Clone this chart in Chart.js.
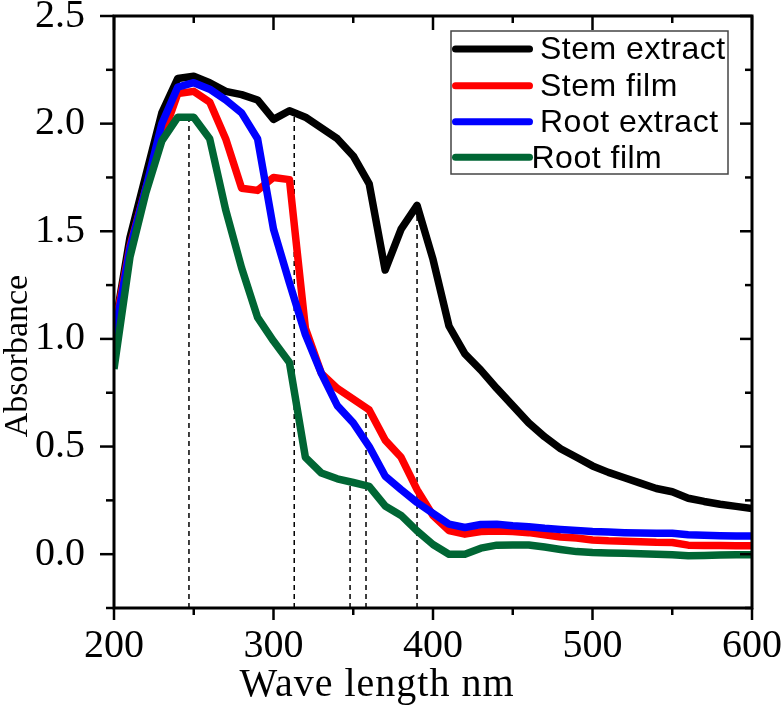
<!DOCTYPE html>
<html>
<head>
<meta charset="utf-8">
<script src="https://cdn.jsdelivr.net/npm/chart.js@4.4.0/dist/chart.umd.min.js"></script>
<style>
  html, body { margin: 0; padding: 0; background: #fff; }
</style>
</head>
<body>
<canvas id="uvChart" width="783" height="705"></canvas>
<script>
// wavelength grid, nm
const wavelengths = [200, 210, 220, 230, 240, 250, 260, 270, 280, 290,
  300, 310, 320, 330, 340, 350, 360, 370, 380, 390,
  400, 410, 420, 430, 440, 450, 460, 470, 480, 490,
  500, 510, 520, 530, 540, 550, 560, 570, 580, 590, 600];

const stemExtract = [1.03, 1.47, 1.76, 2.05, 2.21, 2.22, 2.19, 2.15, 2.135, 2.11,
  2.02, 2.06, 2.03, 1.98, 1.93, 1.85, 1.72, 1.32, 1.51, 1.62,
  1.37, 1.06, 0.93, 0.855, 0.77, 0.69, 0.61, 0.545, 0.49, 0.45,
  0.41, 0.38, 0.355, 0.33, 0.305, 0.29, 0.26, 0.245, 0.232, 0.222, 0.212];

const stemFilm = [1.03, 1.43, 1.70, 1.93, 2.14, 2.15, 2.10, 1.93, 1.70, 1.69,
  1.75, 1.74, 1.05, 0.84, 0.77, 0.72, 0.67, 0.53, 0.45, 0.30,
  0.18, 0.11, 0.093, 0.105, 0.108, 0.105, 0.10, 0.09, 0.08, 0.075,
  0.066, 0.062, 0.06, 0.058, 0.055, 0.054, 0.042, 0.04, 0.04, 0.039, 0.039];

const rootExtract = [1.0, 1.42, 1.70, 2.00, 2.17, 2.19, 2.16, 2.11, 2.05, 1.93,
  1.51, 1.26, 1.02, 0.84, 0.69, 0.61, 0.50, 0.363, 0.30, 0.24,
  0.19, 0.14, 0.124, 0.138, 0.139, 0.132, 0.127, 0.12, 0.115, 0.11,
  0.105, 0.103, 0.10, 0.098, 0.097, 0.097, 0.09, 0.088, 0.086, 0.085, 0.085];

const rootFilm = [0.86, 1.38, 1.68, 1.92, 2.03, 2.03, 1.93, 1.60, 1.33, 1.10,
  0.99, 0.89, 0.45, 0.377, 0.35, 0.333, 0.315, 0.224, 0.18, 0.108,
  0.045, 0.0, 0.0, 0.028, 0.042, 0.043, 0.043, 0.033, 0.022, 0.012,
  0.008, 0.006, 0.004, 0.002, 0.0, -0.003, -0.007, -0.006, -0.004, -0.003, -0.003];

// dashed peak markers: wavelength and the absorbance where they stop
const markerX = [247, 313, 348, 358, 390];
const markerTop = [2.02, 2.05, 0.32, 0.68, 1.61];

const seriesNames = ["Stem extract", "Stem film", "Root extract", "Root film"];
const seriesColors = ["#000000", "#ff0000", "#0000ff", "#006634"];

const xMin = 200, xMax = 600, yMin = -0.25, yMax = 2.5;

const toPoints = (vals) => vals.map((v, i) => ({ x: wavelengths[i], y: v }));

const curves = [stemExtract, stemFilm, rootExtract, rootFilm].map((vals, i) => ({
  label: seriesNames[i],
  data: toPoints(vals),
  borderColor: seriesColors[i],
  borderWidth: 7.5,
  borderJoinStyle: "round",
  pointRadius: 0,
  tension: 0,
  order: 4 - i,
}));

const markers = markerX.map((x, i) => ({
  label: "marker" + i,
  data: [{ x: x, y: yMin }, { x: x, y: markerTop[i] }],
  borderColor: "#000",
  borderWidth: 1.5,
  borderDash: [5, 4],
  pointRadius: 0,
  order: 10,
}));

const serif = '"Liberation Serif", "Times New Roman", serif';

// frame + mirrored ticks (outward on bottom/left, inward on top/right)
const framePlugin = {
  id: "frame",
  afterDatasetsDraw(chart) {
    const { ctx, chartArea: a, scales: { x, y } } = chart;
    const seg = (x1, y1, x2, y2) => {
      ctx.beginPath();
      ctx.moveTo(x1, y1);
      ctx.lineTo(x2, y2);
      ctx.stroke();
    };
    ctx.save();
    ctx.strokeStyle = "#000";
    ctx.lineWidth = 2.5;
    x.ticks.forEach((t) => {
      const px = x.getPixelForValue(t.value);
      const major = Math.abs(t.value % 100) < 1e-6;
      seg(px, a.bottom, px, a.bottom + (major ? 12 : 7));
      seg(px, a.top, px, a.top + (major ? 14 : 7));
    });
    y.ticks.forEach((t) => {
      const py = y.getPixelForValue(t.value);
      const major = Math.abs(t.value * 2 - Math.round(t.value * 2)) < 1e-6;
      seg(a.left, py, a.left - (major ? 14 : 8), py);
      seg(a.right, py, a.right - (major ? 12 : 7), py);
    });
    ctx.lineWidth = 3;
    ctx.strokeRect(a.left, a.top, a.right - a.left, a.bottom - a.top);
    ctx.restore();
  },
};

const legendPlugin = {
  id: "boxLegend",
  afterDraw(chart) {
    const { ctx } = chart;
    const rows = [49, 85.7, 121.7, 157.3];
    const textX = [540, 540, 540, 531.5];
    ctx.save();
    ctx.strokeStyle = "#444";
    ctx.lineWidth = 1.5;
    ctx.strokeRect(451, 31, 277, 143);
    ctx.font = '32px "Liberation Sans", Arial, sans-serif';
    ctx.letterSpacing = "0.5px";
    ctx.textBaseline = "middle";
    ctx.textAlign = "left";
    seriesNames.forEach((name, i) => {
      ctx.strokeStyle = seriesColors[i];
      ctx.lineWidth = 7;
      ctx.lineCap = "round";
      ctx.beginPath();
      ctx.moveTo(455.5, rows[i]);
      ctx.lineTo(529.5, rows[i]);
      ctx.stroke();
      ctx.fillStyle = "#000";
      ctx.fillText(name, textX[i], rows[i] + 1.5);
    });
    ctx.restore();
  },
};

const titlePlugin = {
  id: "axisTitles",
  afterDraw(chart) {
    const { ctx } = chart;
    ctx.save();
    ctx.fillStyle = "#000";
    ctx.textAlign = "center";
    ctx.textBaseline = "alphabetic";
    ctx.font = "40px " + serif;
    ctx.letterSpacing = "1px";
    ctx.fillText("Wave length nm", 377, 696);
    ctx.letterSpacing = "0px";
    ctx.translate(27, 356);
    ctx.rotate(-Math.PI / 2);
    ctx.font = "34px " + serif;
    ctx.fillText("Absorbance", 0, 0);
    ctx.restore();
  },
};

new Chart(document.getElementById("uvChart"), {
  type: "line",
  data: { datasets: [...curves, ...markers] },
  options: {
    responsive: false,
    animation: false,
    devicePixelRatio: 1,
    layout: { padding: { top: 16, right: 31, left: 0, bottom: 0 } },
    plugins: { legend: { display: false }, tooltip: { enabled: false } },
    scales: {
      x: {
        type: "linear",
        min: xMin,
        max: xMax,
        grid: { display: false, drawTicks: false },
        border: { display: false },
        ticks: {
          stepSize: 50,
          autoSkip: false,
          maxRotation: 0,
          padding: 14,
          color: "#000",
          font: { family: serif, size: 40 },
          callback: (v) => (v % 100 === 0 ? String(v) : ""),
        },
        afterFit(scale) {
          scale.height = 97;
          scale.paddingLeft = 0;
          scale.paddingRight = 0;
        },
      },
      y: {
        min: yMin,
        max: yMax,
        grid: { display: false, drawTicks: false },
        border: { display: false },
        ticks: {
          stepSize: 0.25,
          autoSkip: false,
          padding: 29,
          color: "#000",
          font: { family: serif, size: 40 },
          callback: (v) => {
            const half = Math.abs(v * 2 - Math.round(v * 2)) < 1e-6;
            return half && v >= 0 ? v.toFixed(1) : "";
          },
        },
        afterFit(scale) {
          scale.width = 114;
          scale.paddingTop = 0;
          scale.paddingBottom = 0;
        },
      },
    },
  },
  plugins: [framePlugin, legendPlugin, titlePlugin],
});
</script>
</body>
</html>
